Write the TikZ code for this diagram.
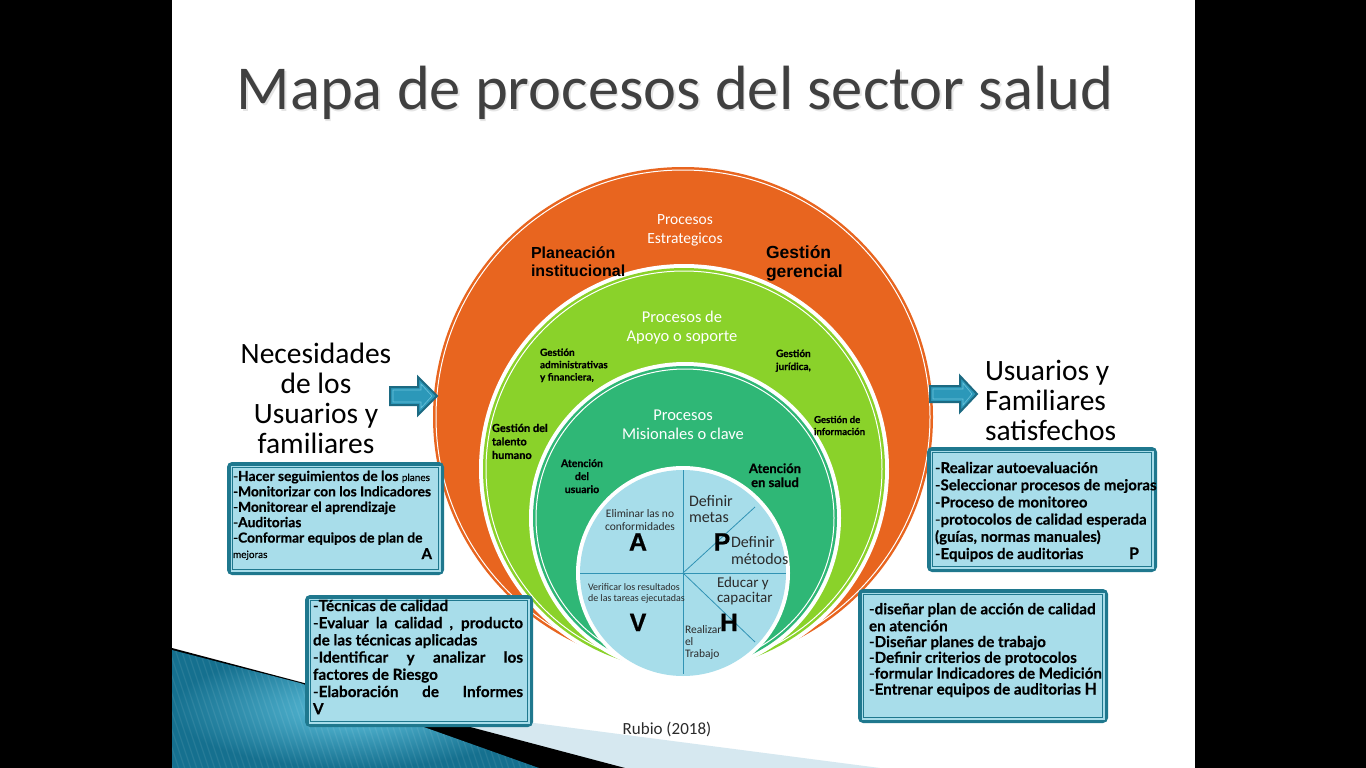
\documentclass[tikz,border=0pt]{standalone}
\usepackage{fontspec}
\setmainfont{Carlito}
\newfontfamily\boxf{Lato}
\newfontfamily\arialf{Liberation Sans}
\newcommand\heavier{\addfontfeature{FakeBold=0.5}}
\definecolor{orng}{HTML}{E8651F}
\definecolor{lgreen}{HTML}{8AD22A}
\definecolor{tgreen}{HTML}{2FB776}
\definecolor{piefill}{HTML}{A7DDEA}
\definecolor{boxfill}{HTML}{A8DDEA}
\definecolor{boxedge}{HTML}{1F788E}
\definecolor{arrowfill}{HTML}{2C98B9}
\definecolor{arrowedge}{HTML}{1C6A82}
\definecolor{arrowline}{HTML}{6CC3DC}
\definecolor{pieline}{HTML}{3193B4}
\definecolor{titlegray}{HTML}{404040}
\definecolor{textgray}{HTML}{2B2B2B}
\definecolor{stripe}{HTML}{D6E8F0}
\definecolor{decodark}{HTML}{15708F}
\definecolor{decolight}{HTML}{60C4E0}
\begin{document}
\begin{tikzpicture}[x=1pt,y=-1pt,
  every node/.style={inner sep=0pt, outer sep=0pt},
  boxouter/.style={fill=boxedge, rounded corners=5pt},
  boxinner/.style={fill=boxfill},
  boxline/.style={draw=boxedge, line width=1.2pt},
  boxtext/.style 2 args={font=\boxf\bfseries\heavier\fontsize{#1}{#2}\selectfont, align=left, anchor=north west, text=black},
  ringtitle/.style={font=\fontsize{16.5}{19}\selectfont, text=white, align=center, anchor=north},
  smallbold/.style 2 args={font=\boxf\bfseries\heavier\fontsize{#1}{#2}\selectfont, align=left, anchor=north west, text=black},
  pietext/.style={text=textgray, align=left, anchor=north west},
  bigletter/.style={font=\arialf\bfseries\heavier\fontsize{25}{25}\selectfont, anchor=base, text=black},
  arrowshape/.style={fill=arrowfill, draw=arrowedge, line width=2pt, line join=miter},
  arrowinner/.style={draw=arrowline, line width=0.6pt}
]
\useasboundingbox (0,0) rectangle (1366,768);
% slide
\fill[black] (0,0) rectangle (1366,768);
\fill[white] (172,0) rectangle (1195,768);
% bottom-left decoration
\fill[stripe] (350,699) -- (880,768) -- (350,768) -- cycle;
\fill[black] (172,648) -- (625,768) -- (520,768) -- (172,768) -- cycle;
\shade[inner color=decolight, outer color=decodark] (172,650) -- (300,683) -- (539,768) -- (172,768) -- cycle;
\begin{scope}
\clip (172,650) -- (300,683) -- (539,768) -- (172,768) -- cycle;
\foreach \i in {0,6,...,420}{\draw[white, opacity=0.08, line width=1.2pt] (130+\i,640) -- ++(45,135);}
\end{scope}
% title
\node[font=\fontsize{62.5}{70}\selectfont, text=black!10, anchor=base] (titleshadow) at (676.5,111) {Mapa de procesos del sector salud};
\node[font=\fontsize{62.5}{70}\selectfont, text=titlegray, anchor=base] (title) at (675,109.5) {Mapa de procesos del sector salud};
% circles
\fill[orng] (683,417) circle (250);
\draw[white, line width=1pt] (683,417) circle (247);
\fill[white] (684,469) circle (205);
\fill[lgreen] (684,469) circle (201);
\draw[white, line width=1pt] (684,469) circle (198);
\fill[white] (685,518) circle (156);
\fill[tgreen] (685,518) circle (152);
\draw[white, line width=1pt] (685,518) circle (149);
\fill[white] (683,573) circle (107);
\fill[piefill] (683,573) circle (103);
\draw[white, line width=1pt] (683,573) circle (105);
% pie lines
\draw[pieline, line width=0.8pt] (683,470) -- (683,674);
\draw[pieline, line width=0.8pt] (580,573) -- (786,573);
\draw[pieline, line width=0.8pt] (683,573) -- (755,507);
\draw[pieline, line width=0.8pt] (683,573) -- (755,642);
% ring texts
\node[ringtitle, font=\fontsize{15.5}{19}\selectfont] (estr) at (685,210.7) {\strut Procesos\\Estrategicos};
\node[font=\arialf\bfseries\fontsize{16}{18}\selectfont, align=left, anchor=north west] (plan) at (531,245.4) {\strut Planeación\\institucional};
\node[font=\arialf\bfseries\fontsize{17.5}{18}\selectfont, align=left, anchor=north west] (ger) at (766,245.4) {\strut Gestión\\gerencial};
\node[ringtitle] (apoyo) at (682,308.7) {\strut Procesos de\\Apoyo o soporte};
\node[smallbold={10}{12.3}] (adm) at (540,347.3) {\strut Gestión\\administrativas\\y financiera,};
\node[smallbold={10}{13}] (jur) at (776,347.9) {\strut Gestión\\jurídica,};
\node[smallbold={11}{13.5}] (tal) at (492,422.5) {\strut Gestión del\\talento\\humano};
\node[smallbold={9.6}{12}] (inf) at (814,414.6) {\strut Gestión de\\información};
\node[ringtitle] (mis) at (683,406.7) {\strut Procesos\\Misionales o clave};
\node[smallbold={10.5}{13}, align=center, anchor=north] (atu) at (582,457.9) {\strut Atención\\del\\usuario};
\node[smallbold={13}{14}, align=center, anchor=north] (ats) at (775,463.2) {\strut Atención\\en salud};
% pie texts
\node[pietext, align=center, anchor=north, font=\fontsize{11.5}{13}\selectfont] (elim) at (640,507.9) {\strut Eliminar las no\\conformidades};
\node[pietext, font=\fontsize{16}{16}\selectfont] (metas) at (689,494.8) {\strut Definir\\metas};
\node[pietext, font=\fontsize{16}{17}\selectfont] (metodos) at (731,535.1) {\strut Definir\\métodos};
\node[pietext, font=\fontsize{15}{15}\selectfont] (educ) at (717,576.5) {\strut Educar y\\capacitar};
\node[pietext, font=\fontsize{10}{10.5}\selectfont] (verif) at (588,583.6) {\strut Verificar los resultados\\de las tareas ejecutadas};
\node[pietext, font=\fontsize{11.5}{11.7}\selectfont] (realiz) at (685,625.8) {\strut Realizar\\el\\Trabajo};
\node[bigletter] (la) at (638,550.5) {A};
\node[bigletter] (lp) at (722,550.5) {P};
\node[bigletter] (lv) at (638,631) {V};
\node[bigletter] (lh) at (729,631) {H};
% side texts
\node[font=\fontsize{29.5}{30}\selectfont, align=center, anchor=north, text=black] (need) at (316,342) {\strut Necesidades\\de los\\Usuarios y\\familiares};
\node[font=\fontsize{29.5}{30}\selectfont, align=left, anchor=north west, text=black] (sat) at (985,359) {\strut Usuarios y\\Familiares\\satisfechos};
\node[font=\fontsize{17}{20}\selectfont, anchor=base, text=textgray] (rubio) at (667,734) {Rubio (2018)};
% arrows
\draw[arrowshape] (390,387) -- (418,387) -- (418,377) -- (437,396) -- (418,415) -- (418,405) -- (390,405) -- cycle;
\draw[arrowinner] (393,390) -- (421,390) -- (421,384) -- (432,396) -- (421,408) -- (421,402) -- (393,402) -- cycle;
\draw[arrowshape] (930,386) -- (960,386) -- (960,376) -- (977,394) -- (960,412) -- (960,402) -- (930,402) -- cycle;
\draw[arrowinner] (933,389) -- (963,389) -- (963,383) -- (972,394) -- (963,405) -- (963,399) -- (933,399) -- cycle;
% box A
\fill[boxouter] (227,462) rectangle (444,575);
\fill[boxinner] (230.5,465.5) rectangle (440.5,571.5);
\draw[boxline] (232.5,467.5) rectangle (438.5,569.5);
\node[boxtext={13.8}{15.4}] (boxa) at (233,470.2) {\strut{\mdseries-}Hacer seguimientos de los {\mdseries\fontsize{10}{15.4}\selectfont planes}\\{\mdseries-}Monitorizar con los Indicadores\\{\mdseries-}Monitorear el aprendizaje\\{\mdseries-}Auditorias\\{\mdseries-}Conformar equipos de plan de\\{\mdseries\fontsize{10}{15.4}\selectfont mejoras}};
\node[font=\boxf\bfseries\heavier\fontsize{15}{15}\selectfont, anchor=base east] (boxaletter) at (432,559) {A};
% box V
\fill[boxouter] (305,595) rectangle (533,727);
\fill[boxinner] (308.5,598.5) rectangle (529.5,723.5);
\draw[boxline] (310.5,600.5) rectangle (527.5,721.5);
\node[boxtext={15.3}{17.2}] (boxv) at (313,599) {\strut{\mdseries-}Técnicas de calidad\\\makebox[210pt][s]{{\mdseries-}Evaluar la calidad , producto}\\de las técnicas aplicadas\\\makebox[210pt][s]{{\mdseries-}Identificar y analizar los}\\factores de Riesgo\\\makebox[210pt][s]{{\mdseries-}Elaboración de Informes}\\V};
% box P
\fill[boxouter] (927,447) rectangle (1157,572);
\fill[boxinner] (930.5,450.5) rectangle (1153.5,568.5);
\draw[boxline] (932.5,452.5) rectangle (1151.5,566.5);
\node[boxtext={15}{17.2}] (boxp) at (935,461) {\strut{\mdseries-}Realizar autoevaluación\\{\mdseries-}Seleccionar procesos de mejoras\\{\mdseries-}Proceso de monitoreo\\{\mdseries-}protocolos de calidad esperada\\(guías, normas manuales)\\{\mdseries-}Equipos de auditorias};
\node[font=\boxf\bfseries\heavier\fontsize{16}{16}\selectfont, anchor=base] (boxpletter) at (1134,559) {P};
% box H
\fill[boxouter] (858,589) rectangle (1108,723);
\fill[boxinner] (861.5,592.5) rectangle (1104.5,719.5);
\draw[boxline] (863.5,594.5) rectangle (1102.5,717.5);
\node[boxtext={15.2}{15.8}] (boxh) at (869,603) {\strut{\mdseries-}diseñar plan de acción de calidad\\en atención\\{\mdseries-}Diseñar planes de trabajo\\{\mdseries-}Definir criterios de protocolos\\{\mdseries-}formular Indicadores de Medición\\{\mdseries-}Entrenar equipos de auditorias {\fontsize{16}{15.8}\selectfont H}};
\end{tikzpicture}
\end{document}
